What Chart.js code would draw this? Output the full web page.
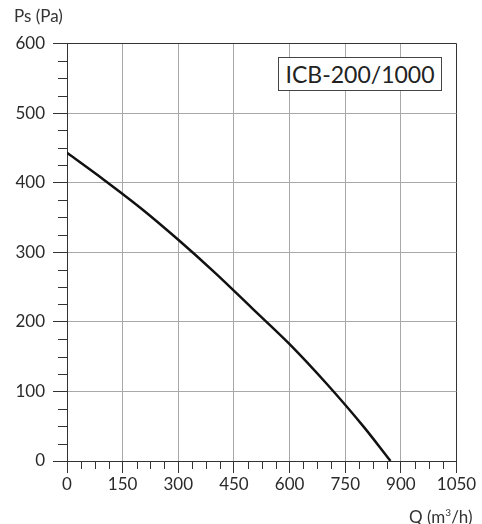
<!DOCTYPE html>
<html>
<head>
<meta charset="utf-8">
<script src="https://cdn.jsdelivr.net/npm/chart.js@4/dist/chart.umd.min.js"></script>
<style>
  html, body { margin: 0; padding: 0; background: #fff; }
  #wrap { position: relative; width: 482px; height: 524px; }
  canvas { position: absolute; left: 0; top: 0; }
  .lbl { position: absolute; font-family: Lato, sans-serif; color: #333; white-space: nowrap; }
  #ytitle { left: 14px; top: 5px; font-size: 17px; line-height: 22px; }
  #xtitle { left: 409px; top: 501px; font-size: 17px; line-height: 22px; }
  #model { left: 278px; top: 57px; width: 162px; height: 32px; border: 1px solid #444; background: #fff;
           font-size: 23px; line-height: 32px; text-align: center; color: #222; }
</style>
</head>
<body>
<div id="wrap">
  <canvas id="c" width="482" height="524"></canvas>
  <div class="lbl" id="ytitle">Ps (Pa)</div>
  <div class="lbl" id="xtitle">Q (m<sup style="font-size:10px;vertical-align:7px;">3</sup>/h)</div>
  <div class="lbl" id="model">ICB-200/1000</div>
</div>
<script>
// Data
const flowQ      = [0,   100, 200, 300, 400, 500, 600, 700, 800, 872];
const pressurePa = [443, 404, 363, 318, 270, 219, 168, 111, 49,  0];

// Axis tick definitions
const xMajorTicks = [0, 150, 300, 450, 600, 750, 900, 1050];
const yMajorTicks = [0, 100, 200, 300, 400, 500, 600];
const xMinorStep = 37.5;
const yMinorStep = 25;

const points = flowQ.map((q, i) => ({ x: q, y: pressurePa[i] }));

const minorTicks = {
  id: 'minorTicks',
  afterDraw(chart) {
    const ctx = chart.ctx;
    const xs = chart.scales.x, ys = chart.scales.y;
    const area = chart.chartArea;
    ctx.save();
    ctx.strokeStyle = '#333';
    ctx.lineWidth = 1;
    ctx.beginPath();
    for (let v = xs.min; v <= xs.max; v += xMinorStep) {
      if (v % 150 === 0) continue;
      const px = Math.round(xs.getPixelForValue(v)) + 0.5;
      ctx.moveTo(px, area.bottom);
      ctx.lineTo(px, area.bottom + 8);
    }
    for (let v = ys.min; v <= ys.max; v += yMinorStep) {
      if (v % 100 === 0) continue;
      const py = Math.round(ys.getPixelForValue(v)) + 0.5;
      ctx.moveTo(area.left, py);
      ctx.lineTo(area.left - 9, py);
    }
    ctx.stroke();
    ctx.restore();
  }
};

new Chart(document.getElementById('c'), {
  type: 'line',
  data: {
    datasets: [{
      data: points,
      borderColor: '#111',
      borderWidth: 2.5,
      pointRadius: 0,
      cubicInterpolationMode: 'monotone',
      fill: false
    }]
  },
  options: {
    responsive: false,
    animation: false,
    devicePixelRatio: 1,
    layout: { padding: { left: 0, top: 43.5, right: 25.5, bottom: 0 } },
    plugins: { legend: { display: false }, tooltip: { enabled: false }, title: { display: false } },
    scales: {
      x: {
        type: 'linear',
        min: 0, max: 1050,
        afterBuildTicks: s => { s.ticks = xMajorTicks.map(v => ({ value: v })); },
        afterFit: s => { s.height = 63; },
        grid: {
          color: c => (c.tick && c.tick.value === 1050) ? '#333' : '#a8a8a8',
          tickColor: '#333',
          tickLength: 12,
          lineWidth: 1
        },
        border: { color: '#333', width: 1 },
        ticks: { color: '#2a2a2a', font: { family: 'Lato', size: 17 }, padding: 1, maxRotation: 0,
                 callback: v => String(v) }
      },
      y: {
        type: 'linear',
        min: 0, max: 600,
        afterBuildTicks: s => { s.ticks = yMajorTicks.map(v => ({ value: v })); },
        afterFit: s => { s.width = 67; },
        grid: {
          color: c => (c.tick && c.tick.value === 600) ? '#333' : '#a8a8a8',
          tickColor: '#333',
          tickLength: 14,
          lineWidth: 1
        },
        border: { color: '#333', width: 1 },
        ticks: { color: '#2a2a2a', font: { family: 'Lato', size: 17 }, padding: 8,
                 callback: v => String(v) }
      }
    }
  },
  plugins: [minorTicks]
});
</script>
</body>
</html>
